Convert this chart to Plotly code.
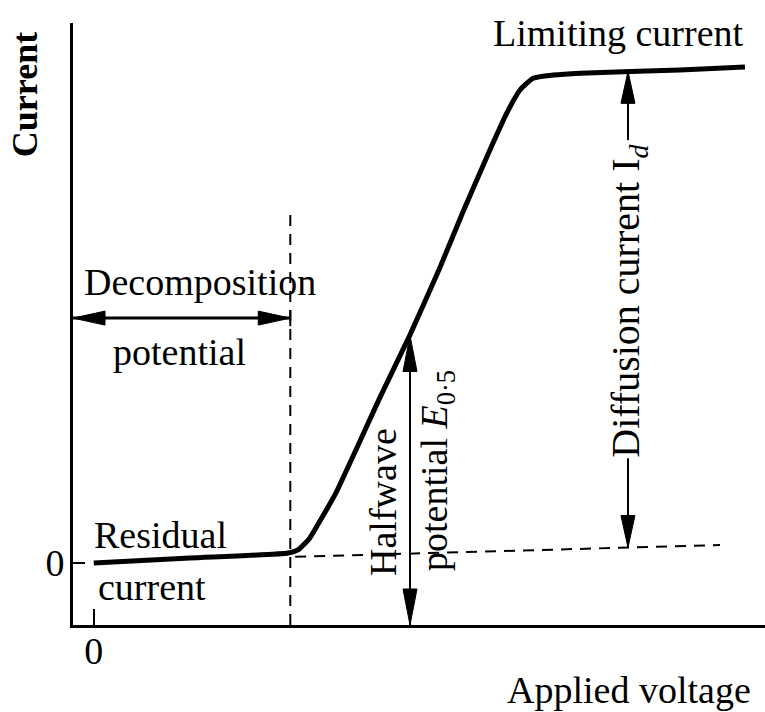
import plotly.graph_objects as go

# ---- data (arbitrary units) ----
voltage = [0.0, 1.39, 2.81, 2.95, 3.12, 3.27, 3.49, 4.14, 4.57, 5.00, 5.33, 5.68, 5.97, 6.16, 6.35, 6.64, 7.03, 8.47, 9.41]
current = [0.0, 0.08, 0.16, 0.21, 0.40, 0.68, 1.11, 2.68, 3.68, 4.76, 5.65, 6.55, 7.26, 7.63, 7.82, 7.87, 7.90, 7.95, 8.00]

decomp_x = 2.84          # decomposition potential
decomp_top = 5.74
halfwave_x = 4.57        # half-wave potential
halfwave_y = 3.67
baseline_x = [2.91, 9.05]   # extrapolated residual current
baseline_y = [0.10, 0.29]
diff_x = 7.72            # diffusion current measurement
diff_top = 7.93
diff_bottom = 0.25
x_ticks = [0]
x_tick_text = ["0"]
y_ticks = [0]
y_tick_text = ["0"]

# ---- layout geometry ----
W, H = 765, 712
ML, MR, MT, MB = 73, 0, 23, 87
XR = [-0.3, 9.7]
YR = [-1.0, 8.71]
sx = (W - ML - MR) / (XR[1] - XR[0])
sy = (H - MT - MB) / (YR[1] - YR[0])
FONT = "Liberation Serif"
INK = "#000000"
FS = 38

fig = go.Figure()

def line(xs, ys, width=2, dash=None):
    fig.add_trace(go.Scatter(x=xs, y=ys, mode="lines", hoverinfo="skip",
                             line=dict(color=INK, width=width, dash=dash)))

def head(xt, yt, dx, dy, length=32, half=6):
    # filled arrowhead with tip at (xt, yt), pointing in pixel direction (dx, dy)
    bx = xt - dx * length / sx
    by = yt - dy * length / sy
    px, py = -dy, dx
    xs = [xt, bx + px * half / sx, bx - px * half / sx, xt]
    ys = [yt, by + py * half / sy, by - py * half / sy, yt]
    fig.add_trace(go.Scatter(x=xs, y=ys, mode="lines", fill="toself", fillcolor=INK,
                             hoverinfo="skip", line=dict(color=INK, width=1)))

# main polarogram curve
fig.add_trace(go.Scatter(x=voltage, y=current, mode="lines", hoverinfo="skip",
                         line=dict(color=INK, width=5, shape="spline", smoothing=0.5)))

# dashed construction lines
line([decomp_x, decomp_x], [YR[0], decomp_top], width=2, dash="11px,8px")
line(baseline_x, baseline_y, width=2, dash="11px,8px")

# decomposition potential arrow
arr_y = 3.95
line([XR[0], decomp_x], [arr_y, arr_y], width=3)
head(XR[0], arr_y, -1, 0, length=32, half=7)
head(decomp_x, arr_y, 1, 0, length=32, half=7)
line([decomp_x, decomp_x], [arr_y - 8 / sy, arr_y + 8 / sy], width=2)

# half-wave arrow
line([halfwave_x, halfwave_x], [YR[0], halfwave_y], width=2)
head(halfwave_x, halfwave_y, 0, 1, length=36, half=7)
head(halfwave_x, YR[0], 0, -1, length=36, half=7)

# diffusion current arrow (broken by the label)
line([diff_x, diff_x], [diff_top, 6.82], width=2)
line([diff_x, diff_x], [1.69, diff_bottom], width=2)
head(diff_x, diff_top, 0, 1, length=32, half=7)
head(diff_x, diff_bottom, 0, -1, length=32, half=7)

def text(x, y, s, size=FS, angle=0, bold=False, xref="x", yref="y"):
    fig.add_annotation(x=x, y=y, xref=xref, yref=yref,
                       text=f"<b>{s}</b>" if bold else s, showarrow=False,
                       textangle=angle, xanchor="center", yanchor="middle",
                       font=dict(family=FONT, size=size, color=INK))

text(1.535, 4.53, "Decomposition")
text(1.245, 3.40, "potential")
text(0.97, 0.45, "Residual")
text(0.84, -0.39, "current")
text(7.58, 8.55, "Limiting current")
text(7.73, -0.108, "Applied voltage", yref="paper")
text(-0.069, 7.55, "Current", size=36, angle=-90, bold=True, xref="paper")
text(4.19, 0.98, "Halfwave", angle=-90)
text(4.96, 1.50, "potential <i>E</i><sub>0·5</sub>", angle=-90)
text(diff_x, 4.23, "Diffusion current I<sub><i>d</i></sub>", size=40, angle=-90)

fig.update_layout(
    width=W, height=H, showlegend=False,
    margin=dict(l=ML, r=MR, t=MT, b=MB, pad=0),
    paper_bgcolor="white", plot_bgcolor="white",
    font=dict(family=FONT, size=FS, color=INK),
    xaxis=dict(range=XR, showgrid=False, zeroline=False, showline=True, linecolor=INK,
               linewidth=3, ticks="inside", ticklen=16, tickwidth=2, tickcolor=INK,
               tickvals=x_ticks, ticktext=x_tick_text, ticklabelstandoff=-10,
               tickfont=dict(family=FONT, size=38)),
    yaxis=dict(range=YR, showgrid=False, zeroline=False, showline=True, linecolor=INK,
               linewidth=3, ticks="inside", ticklen=12, tickwidth=2, tickcolor=INK,
               tickvals=y_ticks, ticktext=y_tick_text, ticklabelstandoff=-2,
               tickfont=dict(family=FONT, size=38)),
)

fig.write_html("out.html", config={"displayModeBar": False},
               post_script="document.body.style.margin='0';")
